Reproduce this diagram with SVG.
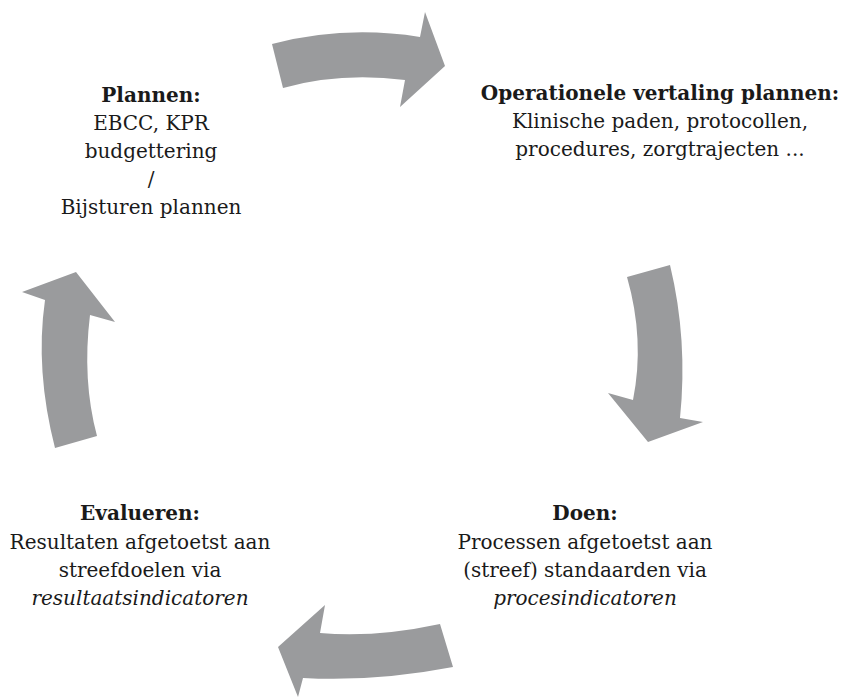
<svg xmlns="http://www.w3.org/2000/svg" width="845" height="697" viewBox="0 0 845 697">
<style>
.t{font-family:"DejaVu Serif","Liberation Serif",serif;font-size:20px;fill:#1a1a1a;text-anchor:middle}
.b{font-weight:bold}
.i{font-style:italic}
.arr{fill:#9a9b9d}
</style>
<rect width="845" height="697" fill="#ffffff"/>
<g id="connectors">
<path class="arr" d="M272,44 Q345,25 420,37 L425,12 L445,66 L400,107 L405,80 Q340,72 283,88 Z"/>
<path class="arr" d="M627,277 L670,265 Q688,340 680,418 L703,422 L648,442 L608,393 L633,400 Q645,340 627,277 Z"/>
<path class="arr" d="M440,624 Q375,638 320,633 L325,605 L278,647 L298,697 L303,678 Q375,682 453,667 Z"/>
<path class="arr" d="M55,448 Q35,370 45,300 L22,292 L76,272 L115,322 L90,315 Q82,380 97,436 Z"/>
</g>
<g id="plannen">
<text class="t b" x="151" y="102">Plannen:</text>
<text class="t" x="151" y="130">EBCC, KPR</text>
<text class="t" x="151" y="158">budgettering</text>
<text class="t" x="151" y="186">/</text>
<text class="t" x="151" y="214">Bijsturen plannen</text>
</g>
<g id="operationeel">
<text class="t b" x="660" y="100">Operationele vertaling plannen:</text>
<text class="t" x="660" y="128">Klinische paden, protocollen,</text>
<text class="t" x="660" y="156">procedures, zorgtrajecten ...</text>
</g>
<g id="doen">
<text class="t b" x="585" y="520">Doen:</text>
<text class="t" x="585" y="549">Processen afgetoetst aan</text>
<text class="t" x="585" y="577">(streef) standaarden via</text>
<text class="t i" x="585" y="605">procesindicatoren</text>
</g>
<g id="evalueren">
<text class="t b" x="140" y="520">Evalueren:</text>
<text class="t" x="140" y="549">Resultaten afgetoetst aan</text>
<text class="t" x="140" y="577">streefdoelen via</text>
<text class="t i" x="140" y="605">resultaatsindicatoren</text>
</g>
</svg>
